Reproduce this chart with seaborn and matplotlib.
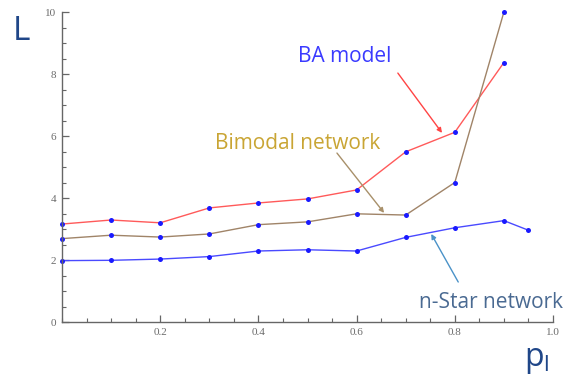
import matplotlib
matplotlib.use("Agg")
import matplotlib.pyplot as plt
from matplotlib.ticker import MultipleLocator, FixedLocator
import seaborn as sns
import pandas as pd

# Average path length L versus link probability p_l
p_ba = [0.0, 0.1, 0.2, 0.3, 0.4, 0.5, 0.6, 0.7, 0.8, 0.9]
L_ba = [3.16, 3.29, 3.20, 3.68, 3.84, 3.97, 4.26, 5.49, 6.12, 8.37]

p_bimodal = [0.0, 0.1, 0.2, 0.3, 0.4, 0.5, 0.6, 0.7, 0.8, 0.9]
L_bimodal = [2.69, 2.80, 2.74, 2.84, 3.14, 3.23, 3.49, 3.45, 4.50, 10.0]

p_nstar = [0.0, 0.1, 0.2, 0.3, 0.4, 0.5, 0.6, 0.7, 0.8, 0.9, 0.95]
L_nstar = [1.98, 1.99, 2.03, 2.11, 2.29, 2.33, 2.29, 2.73, 3.04, 3.27, 2.96]

x_ticks = [0.2, 0.4, 0.6, 0.8, 1.0]
y_ticks = [0, 2, 4, 6, 8, 10]

sns.set_style("ticks")

fig = plt.figure(figsize=(5.74, 3.76), dpi=100)
ax = fig.add_axes([62 / 574, 1 - 322 / 376, 491 / 574, 310 / 376])

series = [
    (p_ba, L_ba, "#ff5a5a"),
    (p_bimodal, L_bimodal, "#a08468"),
    (p_nstar, L_nstar, "#4a4aff"),
]
for px, py, col in series:
    df = pd.DataFrame({"p": px, "L": py})
    sns.lineplot(data=df, x="p", y="L", ax=ax, color=col, linewidth=1.0,
                 marker="o", markersize=3.6, markerfacecolor="#1a1aff",
                 markeredgecolor="#1a1aff", markeredgewidth=0, clip_on=False)

ax.set_xlim(0, 1.0)
ax.set_ylim(0, 10)
ax.set_xlabel("")
ax.set_ylabel("")

ax.xaxis.set_major_locator(FixedLocator(x_ticks))
ax.xaxis.set_minor_locator(MultipleLocator(0.05))
ax.yaxis.set_major_locator(FixedLocator(y_ticks))
ax.yaxis.set_minor_locator(MultipleLocator(0.5))
ax.set_xticklabels([f"{v:.1f}" for v in x_ticks])
ax.set_yticklabels([str(v) for v in y_ticks])

for side in ("top", "right"):
    ax.spines[side].set_visible(False)
for side in ("left", "bottom"):
    ax.spines[side].set_color("#666666")
    ax.spines[side].set_linewidth(1.0)

ax.tick_params(which="major", direction="in", length=5, width=0.9,
               color="#666666", labelsize=8, labelcolor="#6b6b6b", pad=4)
ax.tick_params(which="minor", direction="in", length=3, width=0.8,
               color="#666666")
for lab in ax.get_xticklabels() + ax.get_yticklabels():
    lab.set_fontfamily("Liberation Serif")

# Series labels
label_kw = dict(ha="center", va="center", fontsize=15, family="Open Sans")
ax.text(0.576, 8.55, "BA model", color="#3a3aff", **label_kw)
ax.text(0.479, 5.75, "Bimodal network", color="#c9a534", **label_kw)
ax.text(0.874, 0.62, "n-Star network", color="#4a6a92", **label_kw)

# Arrows from labels to their curves
arrows = [
    ((0.684, 8.03), (0.774, 6.10), "#ff4444"),
    ((0.560, 5.45), (0.656, 3.52), "#a8906a"),
    ((0.807, 1.29), (0.752, 2.84), "#4a92c8"),
]
for tail, tip, col in arrows:
    ax.annotate("", xy=tip, xytext=tail,
                arrowprops=dict(arrowstyle="-|>", color=col, lw=1.0,
                                shrinkA=0, shrinkB=0, mutation_scale=7))

# Axis titles
fig.text(21 / 574, 1 - 32 / 376, "L", fontsize=24, color="#1f4688",
         ha="center", va="center", family="Open Sans")
fig.text(537 / 574, 1 - 359 / 376, r"p$_{\mathregular{l}}$", fontsize=23,
         color="#1f4688", ha="center", va="center", family="Open Sans")

fig.savefig("out.png", dpi=100)
